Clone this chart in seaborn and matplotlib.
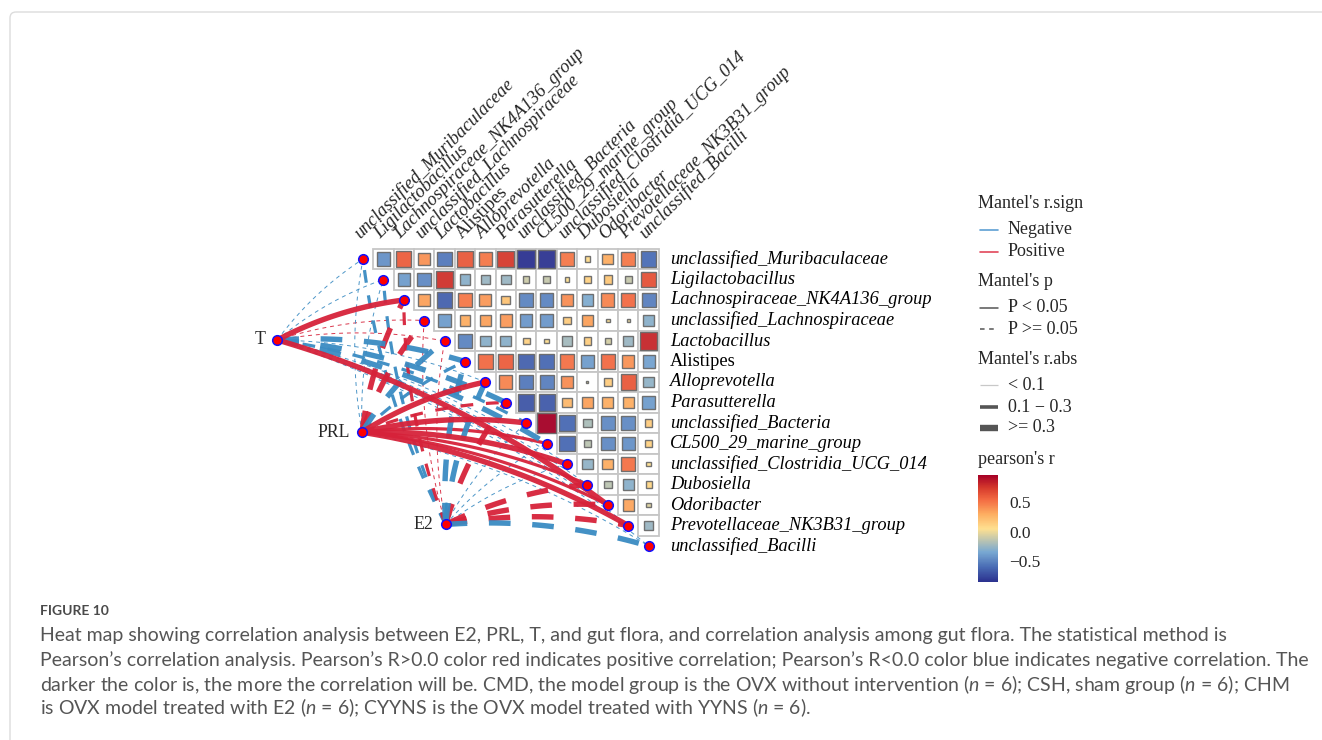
import numpy as np
import pandas as pd
import matplotlib
matplotlib.use("Agg")
import matplotlib.pyplot as plt
import seaborn as sns
from matplotlib.patches import Rectangle, FancyBboxPatch
from matplotlib.colors import Normalize, LinearSegmentedColormap
from matplotlib.cm import ScalarMappable

# ---------------------------------------------------------------- data
taxa = [
    "unclassified_Muribaculaceae", "Ligilactobacillus",
    "Lachnospiraceae_NK4A136_group", "unclassified_Lachnospiraceae",
    "Lactobacillus", "Alistipes", "Alloprevotella", "Parasutterella",
    "unclassified_Bacteria", "CL500_29_marine_group",
    "unclassified_Clostridia_UCG_014", "Dubosiella", "Odoribacter",
    "Prevotellaceae_NK3B31_group", "unclassified_Bacilli",
]
upright_taxa = ["Alistipes"]

# Pearson r among taxa, upper triangle: row i holds columns i+1 .. 14
r_row00 = [-0.45, 0.60, 0.40, -0.55, 0.62, 0.50, 0.75, -0.86, -0.84, 0.50, 0.08, 0.30, 0.50, -0.60]
r_row01 = [-0.40, -0.48, 0.78, -0.30, -0.25, -0.25, -0.10, -0.12, 0.05, 0.12, 0.18, -0.12, 0.65]
r_row02 = [0.35, -0.65, 0.50, 0.38, 0.20, -0.50, -0.50, 0.42, -0.33, 0.45, 0.55, -0.52]
r_row03 = [-0.40, 0.30, 0.35, 0.38, -0.42, -0.42, 0.15, 0.35, 0.04, -0.02, -0.30]
r_row04 = [-0.50, -0.30, -0.30, 0.12, 0.06, -0.22, 0.14, -0.08, -0.25, 0.82]
r_row05 = [0.55, 0.60, -0.65, -0.62, 0.52, -0.40, 0.55, 0.40, -0.38]
r_row06 = [0.45, -0.55, -0.52, 0.42, 0.01, 0.15, 0.62, -0.28]
r_row07 = [-0.70, -0.68, 0.25, 0.35, 0.30, 0.30, -0.40]
r_row08 = [0.97, -0.62, -0.20, -0.48, -0.48, 0.15]
r_row09 = [-0.62, -0.15, -0.48, -0.45, 0.12]
r_row10 = [-0.28, 0.30, 0.52, 0.05]
r_row11 = [-0.15, -0.30, 0.10]
r_row12 = [0.33, -0.05]
r_row13 = [-0.25]
r_rows = [r_row00, r_row01, r_row02, r_row03, r_row04, r_row05, r_row06,
          r_row07, r_row08, r_row09, r_row10, r_row11, r_row12, r_row13]

# Mantel tests of each hormone against every taxon
env_names = ["T", "PRL", "E2"]
mantel_r_T = [-0.05, -0.06, 0.45, 0.04, 0.07, -0.35, -0.05, -0.33, -0.20, -0.32, -0.03, -0.04, 0.42, -0.06, -0.02]
mantel_p_T = [0.60, 0.55, 0.01, 0.70, 0.50, 0.09, 0.60, 0.12, 0.20, 0.10, 0.80, 0.70, 0.02, 0.60, 0.90]
mantel_r_PRL = [-0.04, -0.05, 0.34, 0.31, -0.36, -0.22, 0.50, 0.18, 0.47, 0.28, 0.40, 0.25, 0.27, 0.55, -0.05]
mantel_p_PRL = [0.70, 0.60, 0.08, 0.15, 0.07, 0.25, 0.01, 0.30, 0.01, 0.04, 0.03, 0.04, 0.04, 0.003, 0.65]
mantel_r_E2 = [-0.20, -0.18, 0.22, 0.06, 0.05, -0.32, -0.38, 0.31, -0.07, -0.04, -0.08, 0.33, 0.30, 0.34, -0.35]
mantel_p_E2 = [0.30, 0.35, 0.25, 0.60, 0.70, 0.10, 0.07, 0.12, 0.50, 0.80, 0.50, 0.09, 0.11, 0.08, 0.08]
mantel_r = [mantel_r_T, mantel_r_PRL, mantel_r_E2]
mantel_p = [mantel_p_T, mantel_p_PRL, mantel_p_E2]

# ---------------------------------------------------------------- styling
sns.set_theme(style="white")
plt.rcParams["font.family"] = ["Liberation Serif", "DejaVu Serif"]
plt.rcParams["mathtext.fontset"] = "custom"
plt.rcParams["mathtext.it"] = "Lato:italic"
plt.rcParams["mathtext.rm"] = "Lato"

W, H = 1322, 740
fig = plt.figure(figsize=(W / 100, H / 100), dpi=100)
fig.patch.set_facecolor("white")

# cell-unit axes: column index to the right, row index downwards
CW, RH, X0, Y0 = 20.4, 20.5, 363.0, 259.0
ax = fig.add_axes([0, 0, 1, 1])
ax.set_xlim((0 - X0) / CW, (W - X0) / CW)
ax.set_ylim((H - Y0) / RH, (0 - Y0) / RH)
ax.axis("off")

heat = pd.DataFrame(
    [(i, i + 1 + k, v) for i, vals in enumerate(r_rows) for k, v in enumerate(vals)],
    columns=["row", "col", "r"],
)
vmin, vmax = heat["r"].min(), heat["r"].max()
node_r = [vmin, -0.6, -0.35, 0.05, 0.30, 0.55, 0.75, vmax]
node_c = ["#2B318F", "#4A6DB5", "#78A8D2", "#FEE090", "#FDAE61", "#F36A42", "#D63A2C", "#A50026"]
cmap = LinearSegmentedColormap.from_list(
    "pearson", [((v - vmin) / (vmax - vmin), c) for v, c in zip(node_r, node_c)])
norm = Normalize(vmin=vmin, vmax=vmax)

# grid cells and squares scaled by |r|
for _, cell in heat.iterrows():
    i, j, v = int(cell["row"]), int(cell["col"]), cell["r"]
    ax.add_patch(Rectangle((j - 0.5, i - 0.5), 1, 1, facecolor="white",
                           edgecolor="#c6c6c6", lw=1.3, zorder=1))
    side = 0.95 * np.sqrt(abs(v))
    ax.add_patch(Rectangle((j - side / 2, i - side / 2), side, side,
                           facecolor=cmap(norm(v)), edgecolor="#6a6a6a",
                           lw=1.0, alpha=0.95, zorder=2))

# Mantel links
env_col = [-4.2, -0.05, 4.05]
env_row = [3.95, 8.45, 12.95]

red_c, blue_c = "#D6223A", "#3A8BC2"


def arc(x0, y0, x1, y1, bend=0.045, n=80):
    t = np.linspace(0, 1, n)
    dx, dy = x1 - x0, y1 - y0
    L = np.hypot(dx, dy)
    nx, ny = dy / L, -dx / L
    h = bend * L * 4 * t * (1 - t)
    return x0 + dx * t + nx * h, y0 + dy * t + ny * h


links = []
for e in range(3):
    for k in range(len(taxa)):
        links.append((e, k, mantel_r[e][k], mantel_p[e][k]))
links.sort(key=lambda z: abs(z[2]))
for e, k, r, p in links:
    a = abs(r)
    lw = 0.7 if a < 0.1 else (2.3 if a < 0.3 else 3.9)
    ls = "-" if p < 0.05 else (0, (4, 4))
    col = red_c if r > 0 else blue_c
    xs, ys = arc(env_col[e], env_row[e], k, k)
    ax.plot(xs, ys, color=col, lw=lw, linestyle=ls, solid_capstyle="butt",
            dash_capstyle="butt", alpha=0.95 if a >= 0.1 else 0.9, zorder=3)

# node points
nodes = pd.DataFrame({
    "x": list(range(len(taxa))) + env_col,
    "y": list(range(len(taxa))) + env_row,
})
sns.scatterplot(data=nodes, x="x", y="y", ax=ax, s=48, color="#FF0000",
                edgecolor="#1010FF", linewidth=1.1, zorder=6, legend=False)

# taxon labels
for k, name in enumerate(taxa):
    style = "normal" if name in upright_taxa else "italic"
    ax.text(15.05, k, name, ha="left", va="center", fontsize=13.2,
            fontstyle=style, color="black", zorder=7)
    ax.text(k - 0.15, -0.95, name, ha="left", va="baseline", fontsize=13.2,
            fontstyle=style, rotation=45, rotation_mode="anchor", zorder=7)

for e, name in enumerate(env_names):
    ax.text(env_col[e] - 0.6, env_row[e], name, ha="right", va="center",
            fontsize=12.8, zorder=7)

# ---------------------------------------------------------------- legend
lax = fig.add_axes([0, 0, 1, 1], facecolor="none")
lax.set_xlim(0, W)
lax.set_ylim(H, 0)
lax.axis("off")

lfs = 13
lax.text(978, 204, "Mantel's r.sign", fontsize=lfs, va="center")
lax.plot([980, 998], [230, 230], color="#5E9FD3", lw=1.2)
lax.text(1008, 230, "Negative", fontsize=lfs, va="center")
lax.plot([980, 998], [252, 252], color="#E2475A", lw=1.2)
lax.text(1008, 252, "Positive", fontsize=lfs, va="center")

lax.text(978, 282, "Mantel's p", fontsize=lfs, va="center")
lax.plot([980, 998], [308, 308], color="#555555", lw=1.1)
lax.text(1008, 308, "P < 0.05", fontsize=lfs, va="center")
lax.plot([980, 998], [329, 329], color="#555555", lw=1.1, linestyle=(0, (3, 3)))
lax.text(1008, 329, "P >= 0.05", fontsize=lfs, va="center")

lax.text(978, 359, "Mantel's r.abs", fontsize=lfs, va="center")
lax.plot([980, 998], [385, 385], color="#c8c8c8", lw=0.9, solid_capstyle="butt")
lax.text(1008, 385, "< 0.1", fontsize=lfs, va="center")
lax.plot([980, 998], [407, 407], color="#555555", lw=2.6, solid_capstyle="butt")
lax.text(1008, 407, "0.1 \u2212 0.3", fontsize=lfs, va="center")
lax.plot([980, 998], [428, 428], color="#555555", lw=4.6, solid_capstyle="butt")
lax.text(1008, 428, ">= 0.3", fontsize=lfs, va="center")

lax.text(978, 460, "pearson's r", fontsize=lfs, va="center")
cax = fig.add_axes([978 / W, (H - 582) / H, 20 / W, 107 / H])
cb = fig.colorbar(ScalarMappable(norm=norm, cmap=cmap), cax=cax,
                  ticks=[-0.5, 0.0, 0.5])
cb.outline.set_visible(False)
cb.ax.set_yticklabels(["\u22120.5", "0.0", "0.5"])
cb.ax.tick_params(axis="y", length=4, width=0.8, color="white", direction="in",
                  labelsize=12.5, pad=8, left=True, right=True)

# ---------------------------------------------------------------- caption
lax.add_patch(FancyBboxPatch((10, 12), 1400, 800, boxstyle="round,pad=0,rounding_size=6",
                             fc="none", ec="#dcdcdc", lw=1.0))
cap_font = ["Lato", "DejaVu Sans"]
lax.text(40, 611, "FIGURE 10", fontsize=10, color="#4a4a4a", fontweight="bold",
         family=cap_font, va="center")
caption = [
    "Heat map showing correlation analysis between E2, PRL, T, and gut flora, and correlation analysis among gut flora. The statistical method is",
    "Pearson\u2019s correlation analysis. Pearson\u2019s R>0.0 color red indicates positive correlation; Pearson\u2019s R<0.0 color blue indicates negative correlation. The",
    "darker the color is, the more the correlation will be. CMD, the model group is the OVX without intervention ($n$ = 6); CSH, sham group ($n$ = 6); CHM",
    "is OVX model treated with E2 ($n$ = 6); CYYNS is the OVX model treated with YYNS ($n$ = 6).",
]
for k, line in enumerate(caption):
    lax.text(40, 636 + 24 * k, line, fontsize=14.0, color="#555555",
             family=cap_font, va="center")

fig.savefig("out.png", dpi=100)
